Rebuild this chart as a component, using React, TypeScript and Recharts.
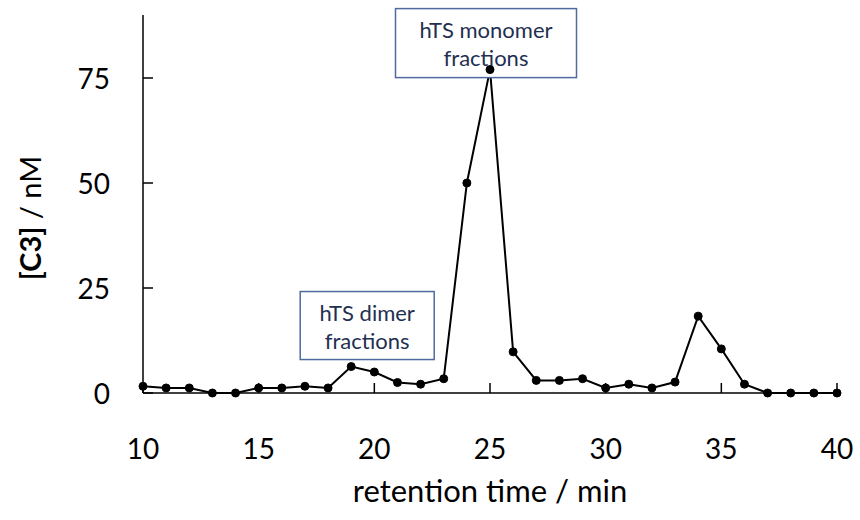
import React from "react";
import { LineChart, Line, XAxis, YAxis, ReferenceDot } from "recharts";

// retention time (min) and measured [C3] (nM)
const times = [10, 11, 12, 13, 14, 15, 16, 17, 18, 19, 20, 21, 22, 23, 24, 25, 26, 27, 28, 29, 30, 31, 32, 33, 34, 35, 36, 37, 38, 39, 40];
const c3 = [1.6, 1.2, 1.2, 0, 0, 1.2, 1.2, 1.6, 1.2, 6.3, 5.0, 2.5, 2.1, 3.4, 50, 77, 9.8, 3.0, 3.0, 3.4, 1.2, 2.1, 1.2, 2.6, 18.3, 10.5, 2.1, 0, 0, 0, 0];

const xTicks = [10, 15, 20, 25, 30, 35, 40];
const yTicks = [0, 25, 50, 75];

const annotations = [
    { x: 25, y: 77, lines: ["hTS monomer", "fractions"] },
    { x: 19, y: 6.3, lines: ["hTS dimer", "fractions"] },
];

const data = times.map((t, i) => ({ t, c3: c3[i] }));

const FONT = "Lato, 'Open Sans', sans-serif";

const XTick = ({ x, y, payload }: any) => (
    <g>
        <line x1={x} y1={y} x2={x} y2={y - 10} stroke="#000" strokeWidth={1.5} />
        <text x={x} y={y + 55} textAnchor="middle" dominantBaseline="central" fontSize={28} fill="#000" fontFamily={FONT}>
            {payload.value}
        </text>
    </g>
);

const YTick = ({ x, y, payload }: any) => (
    <g>
        <line x1={x} y1={y} x2={x + 10} y2={y} stroke="#000" strokeWidth={1.5} />
        <text x={x - 33} y={y} textAnchor="end" dominantBaseline="central" fontSize={28} fill="#000" fontFamily={FONT}>
            {payload.value}
        </text>
    </g>
);

// box sitting above the labelled point
const Callout = (props: any) => {
    const { cx, cy, lines, w, h, dx, dy } = props;
    const left = cx + dx - w / 2;
    const top = cy + dy - h;
    return (
        <g>
            <rect x={left} y={top} width={w} height={h} fill="#fff" stroke="#4f6a9e" strokeWidth={1.5} />
            {lines.map((l: string, i: number) => (
                <text key={i} x={left + w / 2} y={top + 21 + i * 28} textAnchor="middle" dominantBaseline="central" fontSize={22} fill="#1f3050" fontFamily={FONT}>
                    {l}
                </text>
            ))}
        </g>
    );
};

const boxGeom = [
    { w: 181, h: 69, dx: -4, dy: 8 },
    { w: 134, h: 68, dx: 16, dy: -7 },
];

export default function App() {
    return (
        <div style={{ position: "absolute", left: 0, top: 0, width: 860, height: 520, background: "#fff" }}>
            <LineChart width={860} height={520} data={data} margin={{ top: 15, right: 23, left: 0, bottom: 0 }}>
                <XAxis
                    dataKey="t"
                    type="number"
                    domain={[10, 40]}
                    ticks={xTicks}
                    height={127}
                    tickSize={0}
                    tickMargin={0}
                    tick={<XTick />}
                    axisLine={{ stroke: "#000", strokeWidth: 1.5 }}
                    label={{ value: "retention time / min", position: "insideBottom", offset: 10, fontSize: 31, fill: "#000", fontFamily: FONT, dy: -8 }}
                />
                <YAxis
                    type="number"
                    domain={[0, 90]}
                    ticks={yTicks}
                    width={143}
                    tickSize={0}
                    tickMargin={0}
                    tick={<YTick />}
                    axisLine={{ stroke: "#000", strokeWidth: 1.5 }}
                    label={(p: any) => {
                        const vb = p.viewBox;
                        const cx = 29;
                        const cy = vb.y + vb.height / 2 + 14;
                        return (
                            <text x={cx} y={cy} transform={`rotate(-90 ${cx} ${cy})`} textAnchor="middle" dominantBaseline="central" fontSize={29} fill="#000" fontFamily={FONT}>
                                <tspan fontWeight="bold">[C3]</tspan>
                                <tspan> / nM</tspan>
                            </text>
                        );
                    }}
                />
                {annotations.map((a, i) => (
                    <ReferenceDot
                        key={i}
                        x={a.x}
                        y={a.y}
                        r={0}
                        shape={(p: any) => <Callout {...p} lines={a.lines} {...boxGeom[i]} />}
                    />
                ))}
                <Line
                    dataKey="c3"
                    stroke="#000"
                    strokeWidth={2}
                    dot={{ r: 4, fill: "#000", stroke: "#000", strokeWidth: 1 }}
                    activeDot={false}
                    isAnimationActive={false}
                />
            </LineChart>
        </div>
    );
}
